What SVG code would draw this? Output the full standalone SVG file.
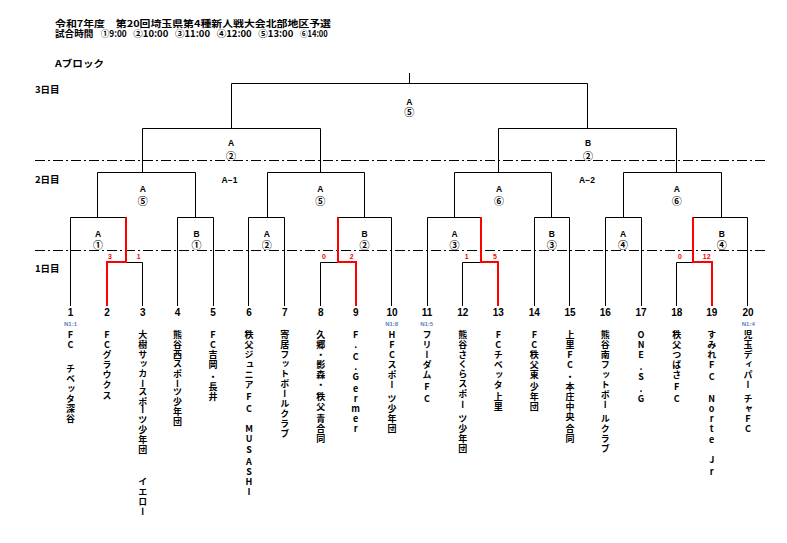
<svg xmlns="http://www.w3.org/2000/svg" width="787" height="543" viewBox="0 0 787 543">
<style>
.ln{stroke:#000;stroke-width:1;fill:none}
.rd{stroke:#f00;stroke-width:2;fill:none}
.dd{stroke:#000;stroke-width:1;stroke-dasharray:10 3 2 3;fill:none}
text{font-family:"Liberation Sans","Noto Sans CJK JP",sans-serif;font-weight:bold;fill:#000}
.jp{font-family:"Noto Sans CJK JP",sans-serif}
.hd{font-size:9.5px}
.day{font-size:9.5px}
.num{font-size:10px;text-anchor:middle}
.ab{font-size:8.5px;text-anchor:middle}
.cn{font-family:"Noto Sans CJK JP",sans-serif;font-size:10px;text-anchor:middle}
.sc{font-size:7px;fill:#f00;text-anchor:middle}
.n1{font-size:6px;fill:#5b7fbf;text-anchor:middle}
.nm{font-family:"Noto Sans CJK JP",sans-serif;font-size:9px;writing-mode:vertical-rl;text-orientation:upright;text-anchor:middle}
</style>
<rect width="787" height="543" fill="#fff"/>
<g id="header">
<text class="hd jp" x="55" y="27" textLength="276" lengthAdjust="spacingAndGlyphs">令和7年度　第20回埼玉県第4種新人戦大会北部地区予選</text>
<text class="hd jp" y="37.3"><tspan x="55" textLength="38.3" lengthAdjust="spacingAndGlyphs">試合時間</tspan> <tspan x="101" textLength="25.7" lengthAdjust="spacingAndGlyphs">①9:00</tspan> <tspan x="133.3" textLength="35" lengthAdjust="spacingAndGlyphs">②10:00</tspan> <tspan x="175" textLength="35" lengthAdjust="spacingAndGlyphs">③11:00</tspan> <tspan x="216.7" textLength="35" lengthAdjust="spacingAndGlyphs">④12:00</tspan> <tspan x="258.3" textLength="35" lengthAdjust="spacingAndGlyphs">⑤13:00</tspan> <tspan x="300" textLength="27.7" lengthAdjust="spacingAndGlyphs">⑥14:00</tspan></text>
<text class="hd jp" x="55" y="67" textLength="49" lengthAdjust="spacingAndGlyphs">Aブロック</text>
</g>
<g id="day-labels">
<text class="day jp" x="35" y="92.5">3日目</text>
<text class="day jp" x="35" y="182.5">2日目</text>
<text class="day jp" x="35" y="271.8">1日目</text>
<text class="ab" x="229.5" y="182.5">A−1</text>
<text class="ab" x="587" y="182.5">A−2</text>
</g>
<g id="connectors">
<path class="dd" d="M35 160.5H766M35 250.5H766"/>
<path class="ln" d="M409.5 73V83.5M231.5 83.5H587.5M231.5 83.5V128.5M587.5 83.5V128.5
M142.5 128.5H320.5M498.5 128.5H676.5M142.5 128.5V172.5M320.5 128.5V172.5M498.5 128.5V172.5M676.5 128.5V172.5
M97.5 172.5H195.5M267.5 172.5H364.5M454.5 172.5H551.5M623.5 172.5H721.5
M97.5 172.5V217.5M195.5 172.5V217.5M267.5 172.5V217.5M364.5 172.5V217.5M454.5 172.5V217.5M551.5 172.5V217.5M623.5 172.5V217.5M721.5 172.5V217.5
M70.5 306V217.5H126M126 262.5H142.5V306
M177.5 306V217.5H213.5V306
M248.5 306V217.5H284.5V306
M338 217.5H391.5V306M338 262.5H320.5V306
M427.5 306V217.5H481M481 262.5H462.5V306
M534.5 306V217.5H569.5V306
M605.5 306V217.5H641.5V306
M693 217.5H747.5V306M693 262.5H676.5V306"/>
<path class="rd" d="M126 217V262H107V306M338 217V262H356V306M481 217V262H498V306M693 217V262H712V306"/>
</g>
<g id="match-final"><text class="ab" x="409.3" y="104.8">A</text><text class="cn" x="409.3" y="116">⑤</text></g>
<g id="match-sf-1"><text class="ab" x="231" y="145.5">A</text><text class="cn" x="231" y="159.5">②</text></g>
<g id="match-sf-2"><text class="ab" x="588" y="145.5">B</text><text class="cn" x="588" y="159.5">②</text></g>
<g id="match-qf-1"><text class="ab" x="142.7" y="192.3">A</text><text class="cn" x="142.7" y="204.5">⑤</text></g>
<g id="match-qf-2"><text class="ab" x="320.3" y="192.3">A</text><text class="cn" x="320.3" y="204.5">⑤</text></g>
<g id="match-qf-3"><text class="ab" x="499" y="192.3">A</text><text class="cn" x="499" y="204.5">⑥</text></g>
<g id="match-qf-4"><text class="ab" x="676.7" y="192.3">A</text><text class="cn" x="676.7" y="204.5">⑥</text></g>
<g id="match-r1-1"><text class="ab" x="98" y="237">A</text><text class="cn" x="98" y="248.5">①</text></g>
<g id="match-r1-2"><text class="ab" x="196.5" y="237">B</text><text class="cn" x="196.5" y="248.5">①</text></g>
<g id="match-r1-3"><text class="ab" x="266.7" y="237">A</text><text class="cn" x="266.7" y="248.5">②</text></g>
<g id="match-r1-4"><text class="ab" x="364.5" y="237">B</text><text class="cn" x="364.5" y="248.5">②</text></g>
<g id="match-r1-5"><text class="ab" x="454.5" y="237">A</text><text class="cn" x="454.5" y="248.5">③</text></g>
<g id="match-r1-6"><text class="ab" x="551.7" y="237">B</text><text class="cn" x="551.7" y="248.5">③</text></g>
<g id="match-r1-7"><text class="ab" x="623" y="237">A</text><text class="cn" x="623" y="248.5">④</text></g>
<g id="match-r1-8"><text class="ab" x="721.7" y="237">B</text><text class="cn" x="721.7" y="248.5">④</text></g>
<g id="scores">
<text class="sc" x="110" y="259.2">3</text><text class="sc" x="138.7" y="259.2">1</text>
<text class="sc" x="324" y="259.2">0</text><text class="sc" x="351.7" y="259.2">2</text>
<text class="sc" x="466.7" y="259.2">1</text><text class="sc" x="495" y="259.2">5</text>
<text class="sc" x="680" y="259.2">0</text><text class="sc" x="706.7" y="259.2">12</text>
</g>
<g id="team-1"><text class="num" x="70.5" y="316.3">1</text><text class="n1" x="70.5" y="326.3">N1:1</text><text class="nm" x="70.5" y="335 345 356.5 368.3 378.3 388.3 398.3 408.3 419">FC　チベッタ深谷</text></g>
<g id="team-2"><text class="num" x="107" y="316.3">2</text><text class="nm" x="107" y="335 345 355 365 375 385 396">FCグラウクス</text></g>
<g id="team-3"><text class="num" x="142.7" y="316.3">3</text><text class="nm" x="142.7" y="335 345 355 363.3 373.3 383.3 391.7 401.7 410 420 430 440 450 466 481.7 491.7 501.7 511.7">大樹サッカースポーツ少年団　イエロー</text></g>
<g id="team-4"><text class="num" x="177.5" y="316.3">4</text><text class="nm" x="177.5" y="335 345 355 363.3 373.3 383.3 391.7 401.7 411.7 421.7">熊谷西スポーツ少年団</text></g>
<g id="team-5"><text class="num" x="213" y="316.3">5</text><text class="nm" x="213" y="335 345 355 365 376.7 386.7 396.7">FC吉岡・長井</text></g>
<g id="team-6"><text class="num" x="249" y="316.3">6</text><text class="nm" x="249" y="335 345 355 365 375 385 396.7 408.3 418 428.3 438.3 450 461.7 471.7 481.7 491.7">秩父ジュニアFC　MUSASHI</text></g>
<g id="team-7"><text class="num" x="284.7" y="316.3">7</text><text class="nm" x="284.7" y="335 345 355 364 374 384 394 404 414 424 434">寄居フットボールクラブ</text></g>
<g id="team-8"><text class="num" x="320.7" y="316.3">8</text><text class="nm" x="320.7" y="335 345 355 365 375 385 396.7 406.7 418.3 428.3 438.3">久郷・影森・秩父青合同</text></g>
<g id="team-9"><text class="num" x="355.7" y="316.3">9</text><text class="nm" x="355.7" y="335 345 356.7 366.7 376.7 388.3 398.3 408.3 418.3 428.3">F.C.Germer</text></g>
<g id="team-10"><text class="num" x="392" y="316.3">10</text><text class="n1" x="391.7" y="326.3">N1:8</text><text class="nm" x="392" y="335 345 355 365 375 385 398.3 408.3 418.3 428.3">HFCスポーツ少年団</text></g>
<g id="team-11"><text class="num" x="427" y="316.3">11</text><text class="n1" x="426.7" y="326.3">N1:5</text><text class="nm" x="427" y="335 345 355 365 375 386.7 398.3">フリーダムFC</text></g>
<g id="team-12"><text class="num" x="462.7" y="316.3">12</text><text class="nm" x="462.7" y="335 345 355 363.3 373.3 383.3 393.3 405 418.3 428.3 438.3 448.3">熊谷さくらスポーツ少年団</text></g>
<g id="team-13"><text class="num" x="498.3" y="316.3">13</text><text class="nm" x="498.3" y="335 345 355 365 375 385 396.7 406.7">FCチベッタ上里</text></g>
<g id="team-14"><text class="num" x="534.3" y="316.3">14</text><text class="nm" x="534.3" y="335 345 355 365 375 386.7 396.7 406.7">FC秩父東少年団</text></g>
<g id="team-15"><text class="num" x="570" y="316.3">15</text><text class="nm" x="570" y="335 345 355 365 376.7 386.7 396.7 406.7 416.7 428.3 438.3">上里FC・本庄中央合同</text></g>
<g id="team-16"><text class="num" x="605.3" y="316.3">16</text><text class="nm" x="605.3" y="335 345 355 365 375 385 395 405 418.3 428.3 438.3 448.3">熊谷南フットボールクラブ</text></g>
<g id="team-17"><text class="num" x="641" y="316.3">17</text><text class="nm" x="641" y="335 345 355 366.7 376.7 388.3 398.3">ONE.S.G</text></g>
<g id="team-18"><text class="num" x="676.7" y="316.3">18</text><text class="nm" x="676.7" y="335 345 355 365 375 386.7 398.3">秩父つばさFC</text></g>
<g id="team-19"><text class="num" x="711.7" y="316.3">19</text><text class="nm" x="711.7" y="335 345 355 365 376.7 387 398.3 408.3 418.3 428.3 440 450 460 471.7">すみれFC　Norte　Jr</text></g>
<g id="team-20"><text class="num" x="748" y="316.3">20</text><text class="n1" x="748.3" y="326.3">N1:4</text><text class="nm" x="748" y="335 345 355 365 375 385 398.3 408.3 418.3 428.3">児玉ディパーチャFC</text></g>
</svg>
